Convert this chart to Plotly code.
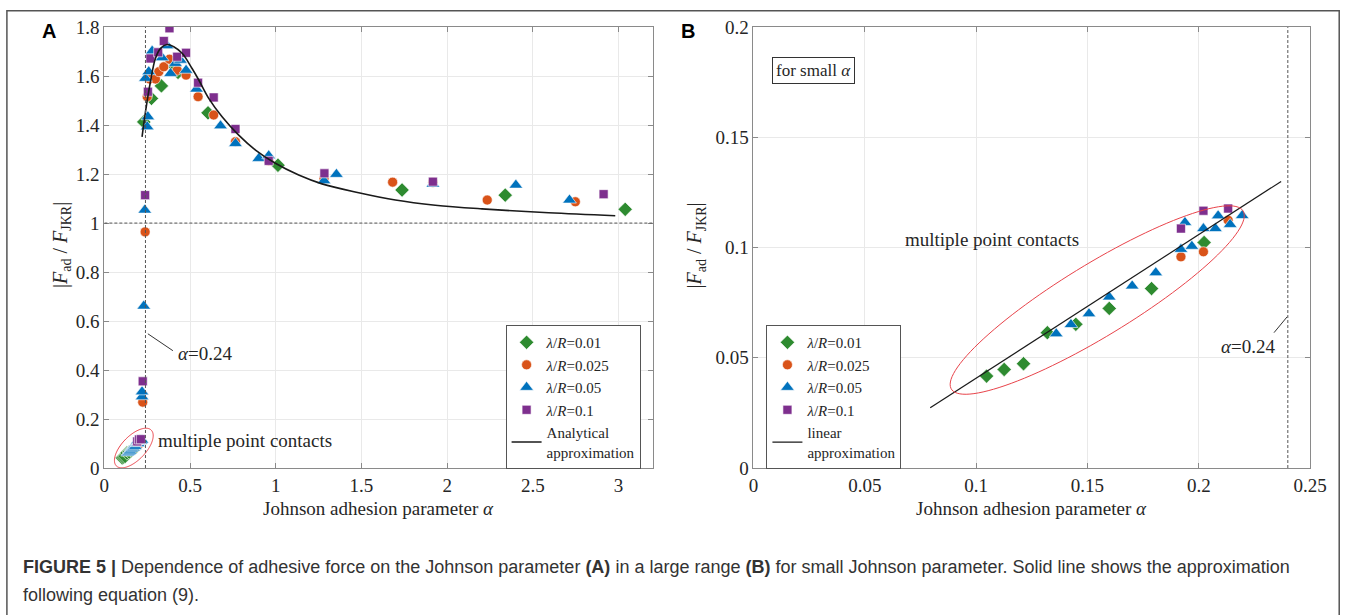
import numpy as np
import plotly.graph_objects as go

# ---------------- data ----------------
# small-alpha data (panel B, also the cluster in panel A)
g_small_x = [0.1047, 0.1126, 0.1213, 0.1320, 0.1448, 0.1598, 0.1788, 0.2024]
g_small_y = [0.0417, 0.0447, 0.0473, 0.0614, 0.0652, 0.0724, 0.0814, 0.1023]
o_small_x = [0.192, 0.2021, 0.2132]
o_small_y = [0.0958, 0.0981, 0.1124]
b_small_x = [0.136, 0.1426, 0.1507, 0.1598, 0.1701, 0.1807, 0.192, 0.1938, 0.1969,
             0.2021, 0.2075, 0.2087, 0.2141, 0.2195]
b_small_y = [0.0609, 0.0651, 0.0700, 0.0776, 0.0826, 0.0886, 0.0992, 0.1114, 0.1006,
             0.1086, 0.1086, 0.1144, 0.1105, 0.1145]
p_small_x = [0.192, 0.2021, 0.2132]
p_small_y = [0.1086, 0.1167, 0.1177]

# large-alpha data (panel A)
g_large_x = [0.230, 0.275, 0.333, 0.410, 0.430, 0.605, 1.013, 1.737, 2.339, 3.039]
g_large_y = [1.413, 1.509, 1.560, 1.640, 1.615, 1.450, 1.236, 1.135, 1.114, 1.056]
o_large_x = [0.224, 0.238, 0.250, 0.264, 0.298, 0.318, 0.347, 0.380, 0.425, 0.477,
             0.547, 0.638, 0.765, 0.959, 1.282, 1.682, 1.917, 2.234, 2.748]
o_large_y = [0.269, 0.964, 1.516, 1.588, 1.588, 1.618, 1.638, 1.669, 1.624, 1.604,
             1.516, 1.441, 1.332, 1.254, 1.182, 1.167, 1.166, 1.094, 1.087]
b_large_x = [0.220, 0.220, 0.230, 0.236, 0.240, 0.250, 0.254, 0.259, 0.279, 0.337,
             0.366, 0.386, 0.415, 0.444, 0.477, 0.538, 0.678, 0.765, 0.901, 0.959,
             1.282, 1.354, 1.917, 2.401, 2.714]
b_large_y = [0.291, 0.311, 0.661, 1.053, 1.591, 1.393, 1.434, 1.618, 1.702, 1.675,
             1.724, 1.611, 1.652, 1.665, 1.624, 1.547, 1.397, 1.325, 1.264, 1.275,
             1.173, 1.199, 1.159, 1.155, 1.094]
p_large_x = [0.224, 0.238, 0.254, 0.269, 0.314, 0.347, 0.380, 0.425, 0.477, 0.547,
             0.638, 0.765, 0.959, 1.284, 1.917, 2.913]
p_large_y = [0.354, 1.114, 1.536, 1.672, 1.697, 1.743, 1.795, 1.679, 1.695, 1.573,
             1.513, 1.384, 1.254, 1.203, 1.169, 1.118]

# analytical approximation curve (panel A)
curve_x = [0.22, 0.240, 0.269, 0.298, 0.328, 0.366, 0.405, 0.454, 0.512, 0.551, 0.609,
           0.687, 0.784, 0.882, 0.998, 1.134, 1.270, 1.484, 1.698, 1.931, 2.203, 2.592, 2.981]
curve_y = [1.352, 1.454, 1.577, 1.672, 1.713, 1.729, 1.720, 1.693, 1.631, 1.584, 1.509,
           1.434, 1.359, 1.298, 1.244, 1.196, 1.160, 1.124, 1.094, 1.073, 1.058, 1.042, 1.030]

# linear approximation (panel B)
lin_x = [0.0794, 0.237]
lin_y = [0.0273, 0.130]

alpha_crit = 0.24

series_names = ["<i>λ</i>/<i>R</i>=0.01", "<i>λ</i>/<i>R</i>=0.025",
                "<i>λ</i>/<i>R</i>=0.05", "<i>λ</i>/<i>R</i>=0.1"]

# ---------------- styling ----------------
GREEN = "#2e8b30"
ORANGE = "#d95319"
BLUE = "#0072bd"
PURPLE = "#7e2f8e"
SERIF = "Liberation Serif"
SANS = "Liberation Sans"

W, H = 1357, 615


# compensation for the page photograph (measured: shown = offset + scale * layout px)
def PX(t):
    return (t - 6.1) / 0.9844


def PY(t):
    return (t - 9.9) / 0.966


def xp(t):
    return PX(t) / W


def yp(t):
    return 1 - PY(t) / H


# target positions in the picture (pixels)
A_L, A_R = 105.5, 654.3
B_L, B_R = 755.0, 1312.0
TOP, BOT = 27.0, 468.0

fig = go.Figure()

styles = [
    ("diamond", 11, GREEN),
    ("circle", 10, ORANGE),
    ("triangle-up", 12, BLUE),
    ("square", 9, PURPLE),
]
small = [(g_small_x, g_small_y), (o_small_x, o_small_y), (b_small_x, b_small_y), (p_small_x, p_small_y)]
large = [(g_large_x, g_large_y), (o_large_x, o_large_y), (b_large_x, b_large_y), (p_large_x, p_large_y)]

for (sym, sz, col), name, (sx, sy), (lx, ly) in zip(styles, series_names, small, large):
    fig.add_trace(go.Scatter(
        x=list(sx) + list(lx), y=list(sy) + list(ly), mode="markers", name=name,
        marker=dict(symbol=sym, size=sz, color=col, line=dict(color="white", width=0.6)),
        xaxis="x", yaxis="y", legend="legend"))
fig.add_trace(go.Scatter(x=curve_x, y=curve_y, mode="lines", name="Analytical<br>approximation",
                         line=dict(color="#1a1a1a", width=1.6, shape="spline", smoothing=1.0),
                         xaxis="x", yaxis="y", legend="legend"))

for (sym, sz, col), name, (sx, sy) in zip(styles, series_names, small):
    fig.add_trace(go.Scatter(
        x=sx, y=sy, mode="markers", name=name,
        marker=dict(symbol=sym, size=sz, color=col, line=dict(color="white", width=0.6)),
        xaxis="x2", yaxis="y2", legend="legend2"))
fig.add_trace(go.Scatter(x=lin_x, y=lin_y, mode="lines", name="linear<br>approximation",
                         line=dict(color="#1a1a1a", width=1.2),
                         xaxis="x2", yaxis="y2", legend="legend2"))

axis_common = dict(showline=True, linecolor="#8a8a8a", linewidth=1, mirror="ticks",
                   ticks="inside", ticklen=5, tickcolor="#8a8a8a",
                   showgrid=True, gridcolor="#e9e9e9", gridwidth=1, zeroline=False,
                   tickfont=dict(family=SERIF, size=19, color="#262626"))

legend_common = dict(xanchor="left", yanchor="top", bgcolor="white", bordercolor="#555",
                     borderwidth=1, font=dict(family=SERIF, size=15, color="#262626"),
                     tracegroupgap=0, itemwidth=30)

yd = [yp(BOT), yp(TOP)]
fig.update_layout(
    width=W, height=H, margin=dict(l=0, r=0, t=0, b=0),
    paper_bgcolor="white", plot_bgcolor="white",
    xaxis=dict(domain=[xp(A_L), xp(A_R)], range=[0, 3.2], tickvals=[0, 0.5, 1, 1.5, 2, 2.5, 3],
               anchor="y", **axis_common),
    yaxis=dict(domain=yd, range=[0, 1.8], dtick=0.2, anchor="x", **axis_common),
    xaxis2=dict(domain=[xp(B_L), xp(B_R)], range=[0, 0.25], dtick=0.05, anchor="y2", **axis_common),
    yaxis2=dict(domain=yd, range=[0, 0.2], dtick=0.05, anchor="x2", **axis_common),
    legend=dict(x=xp(507), y=yp(325), **legend_common),
    legend2=dict(x=xp(768), y=yp(325), **legend_common),
    showlegend=True,
)

DASH = "3px,2px"
shapes = []
shapes.append(dict(type="line", xref="x", yref="y", x0=alpha_crit, x1=alpha_crit, y0=0, y1=1.8,
                   line=dict(color="#555", width=1, dash=DASH)))
shapes.append(dict(type="line", xref="x", yref="y", x0=0, x1=3.2, y0=1, y1=1,
                   line=dict(color="#555", width=1, dash=DASH)))
shapes.append(dict(type="line", xref="x2", yref="y2", x0=alpha_crit, x1=alpha_crit, y0=0, y1=0.2,
                   line=dict(color="#555", width=1, dash=DASH)))
# leader lines
shapes.append(dict(type="line", xref="x", yref="y", x0=0.254, y0=0.548, x1=0.40, y1=0.479,
                   line=dict(color="#333", width=1)))
shapes.append(dict(type="line", xref="x2", yref="y2", x0=0.2338, y0=0.0614, x1=0.2397, y1=0.0686,
                   line=dict(color="#333", width=1)))


def ellipse_path(cx, cy, a_px, b_px, ang_deg, sx, sy):
    t = np.linspace(0, 2 * np.pi, 120)
    th = np.deg2rad(ang_deg)
    u = a_px * np.cos(t)
    v = b_px * np.sin(t)
    dx = u * np.cos(th) - v * np.sin(th)
    dy = u * np.sin(th) + v * np.cos(th)
    xs = cx + dx / sx
    ys = cy + dy / sy
    return "M " + " L ".join(f"{x:.5f},{y:.5f}" for x, y in zip(xs, ys)) + " Z"


sxA = (A_R - A_L) / 3.2
syA = (BOT - TOP) / 1.8
sxB = (B_R - B_L) / 0.25
syB = (BOT - TOP) / 0.2
shapes.append(dict(type="path", xref="x", yref="y",
                   path=ellipse_path(0.172, 0.0816, 25, 12, 46, sxA, syA),
                   line=dict(color="#e8434a", width=1)))
shapes.append(dict(type="path", xref="x2", yref="y2",
                   path=ellipse_path(0.1544, 0.0762, 171, 36, 31.4, sxB, syB),
                   line=dict(color="#e8434a", width=1)))
# outer frame
shapes.append(dict(type="rect", xref="paper", yref="paper",
                   x0=max(PX(8), 0.8) / W, x1=min(PX(1352), W - 0.8) / W,
                   y0=-0.05, y1=1 - max(PY(7), 0.8) / H, line=dict(color="#555", width=1.5)))
fig.update_layout(shapes=shapes)

ann = []
tfont = dict(family=SERIF, size=19, color="#262626")
ann.append(dict(xref="x", yref="y", x=0.30, y=0.114, text="multiple point contacts",
                showarrow=False, xanchor="left", yanchor="middle", font=tfont))
ann.append(dict(xref="x", yref="y", x=0.42, y=0.466, text="<i>α</i>=0.24",
                showarrow=False, xanchor="left", yanchor="middle", font=tfont))
ann.append(dict(xref="x2", yref="y2", x=0.1073, y=0.1036, text="multiple point contacts",
                showarrow=False, xanchor="center", yanchor="middle", font=tfont))
ann.append(dict(xref="x2", yref="y2", x=0.2222, y=0.055, text="<i>α</i>=0.24",
                showarrow=False, xanchor="center", yanchor="middle", font=tfont))
ann.append(dict(xref="x2", yref="y2", x=0.027, y=0.1805, text="for small <i>α</i>",
                showarrow=False, xanchor="center", yanchor="middle",
                font=dict(family=SERIF, size=17, color="#262626"),
                bordercolor="#333", borderwidth=1, borderpad=3, bgcolor="white"))
ytitle = "|<i>F</i><sub>ad</sub> / <i>F</i><sub>JKR</sub>|"
ann.append(dict(xref="paper", yref="paper", x=xp(62), y=yp(245), text=ytitle, textangle=-90,
                showarrow=False, xanchor="center", yanchor="middle",
                font=dict(family=SERIF, size=20, color="#262626")))
ann.append(dict(xref="paper", yref="paper", x=xp(697), y=yp(245), text=ytitle, textangle=-90,
                showarrow=False, xanchor="center", yanchor="middle",
                font=dict(family=SERIF, size=20, color="#262626")))
xtitle = "Johnson adhesion parameter <i>α</i>"
ann.append(dict(xref="paper", yref="paper", x=xp((A_L + A_R) / 2), y=yp(508), text=xtitle,
                showarrow=False, xanchor="center", yanchor="middle", font=tfont))
ann.append(dict(xref="paper", yref="paper", x=xp((B_L + B_R) / 2), y=yp(508), text=xtitle,
                showarrow=False, xanchor="center", yanchor="middle", font=tfont))
ann.append(dict(xref="paper", yref="paper", x=xp(50), y=yp(31), text="<b>A</b>",
                showarrow=False, xanchor="center", yanchor="middle",
                font=dict(family=SANS, size=20, color="black")))
ann.append(dict(xref="paper", yref="paper", x=xp(690), y=yp(31), text="<b>B</b>",
                showarrow=False, xanchor="center", yanchor="middle",
                font=dict(family=SANS, size=20, color="black")))
cfont = dict(family=SANS, size=18, color="#333")
ann.append(dict(xref="paper", yref="paper", x=xp(22), y=yp(567),
                text="<b>FIGURE 5 |</b> Dependence of adhesive force on the Johnson parameter <b>(A)</b> in a large range "
                     "<b>(B)</b> for small Johnson parameter. Solid line shows the approximation",
                showarrow=False, xanchor="left", yanchor="middle", font=cfont))
ann.append(dict(xref="paper", yref="paper", x=xp(22), y=yp(595), text="following equation (9).",
                showarrow=False, xanchor="left", yanchor="middle", font=cfont))
fig.update_layout(annotations=ann)

fig.write_html("out.html")
